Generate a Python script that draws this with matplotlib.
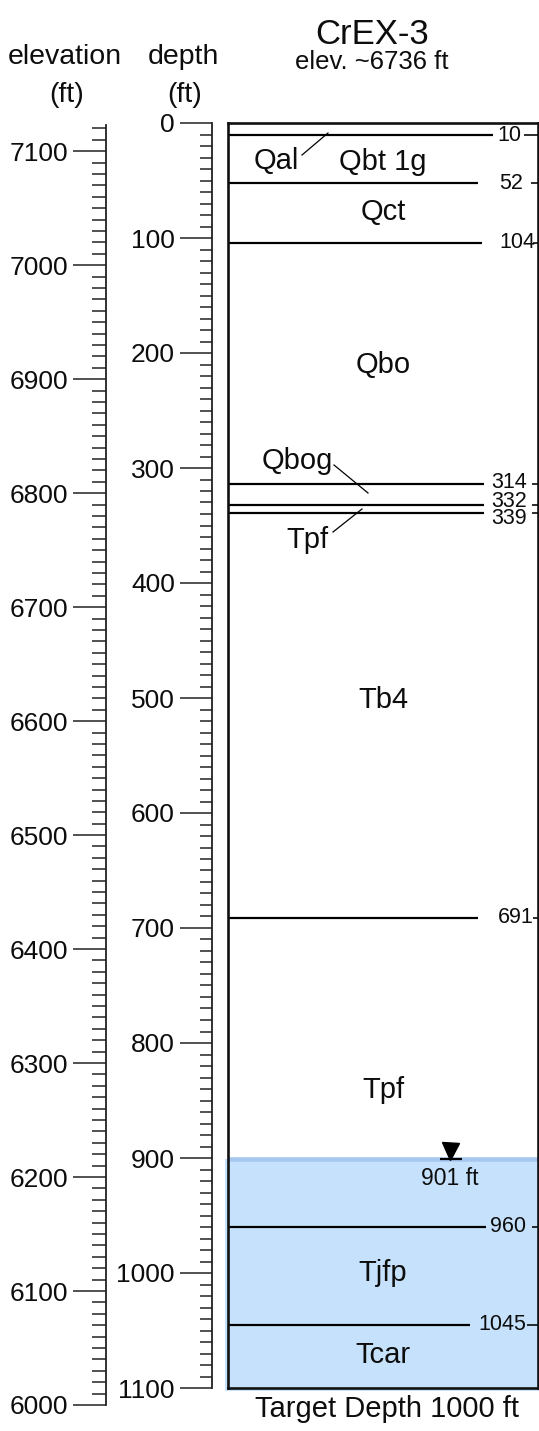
import matplotlib
matplotlib.use('Agg')
import matplotlib.pyplot as plt
from matplotlib.patches import Rectangle
from matplotlib.ticker import MultipleLocator, FixedLocator

plt.rcParams['font.family'] = ['Liberation Sans', 'DejaVu Sans']

# ---------------- data ----------------
well_name = 'CrEX-3'
well_elev_text = 'elev. ~6736 ft'
target_text = 'Target Depth 1000 ft'
total_depth = 1100
water_depth = 901
water_text = '901 ft'

contact_depths = [10, 52, 104, 314, 332, 339, 691, 960, 1045]
contact_labels = ['10', '52', '104', '314', '332', '339', '691', '960', '1045']

unit_names = ['Qbt 1g', 'Qct', 'Qbo', 'Tb4', 'Tpf', 'Tjfp', 'Tcar']
unit_label_depths = [34, 77, 210, 502, 841, 1000, 1071]

thin_units = ['Qal', 'Qbog', 'Tpf']          # labelled with leader lines

depth_ticks = list(range(0, 1101, 100))
depth_tick_labels = [str(v) for v in depth_ticks]
elev_ticks = list(range(6000, 7101, 100))
elev_tick_labels = [str(v) for v in elev_ticks]
elev_range = (6000, 7123)

# ---------------- layout helpers ----------------
W, H = 539, 1431
fig = plt.figure(figsize=(W / 100, H / 100), dpi=100)


def frect(x0, y0, x1, y1):
    return [x0 / W, 1 - y1 / H, (x1 - x0) / W, (y1 - y0) / H]


BOX_L, BOX_R, BOX_T, BOX_B = 228, 538, 123, 1388
PX_PER_FT = (BOX_B - BOX_T) / total_depth


def bx(px):
    return (px - BOX_L) / (BOX_R - BOX_L)


def bd(py):
    return (py - BOX_T) / PX_PER_FT


def pt(px):
    return px * 0.72

BLACK = '#000000'
TXT = '#0d0d0d'
TICKC = '#222222'
BLUE_FILL = '#C6E1FB'
BLUE_EDGE = '#A7C7F1'
UNIT_FS = 21

# ---------------- main column ----------------
ax = fig.add_axes(frect(BOX_L, BOX_T, BOX_R, BOX_B))
ax.set_xlim(0, 1)
ax.set_ylim(total_depth, 0)
ax.set_xticks([])
ax.set_yticks([])
for s in ax.spines.values():
    s.set_linewidth(1.9)
    s.set_color('#111111')
    s.set_zorder(6)
ax.patch.set_alpha(0)

# saturated zone
ax.add_patch(Rectangle((bx(225), water_depth), bx(539) - bx(225),
                       total_depth + 3 / PX_PER_FT - water_depth,
                       facecolor=BLUE_FILL, edgecolor='none', clip_on=False, zorder=0))
ax.plot([0, 1], [water_depth, water_depth], color=BLUE_EDGE, lw=pt(4.5),
        solid_capstyle='butt', zorder=1)

# contacts
label_x_px = [509, 511, 517, 509, 509, 509, 516, 508, 502]
line_end_px = [493, 478, 482, 484, 484, 484, 478, 486, 470]
dash_start_px = [524, 531, 533, 532, 532, 532, 533, 532, 527]
label_dy_px = [1, 1, 0, -2, -3, 6, 0, 0, 0]
for d, lab, lx, le, ds, dy in zip(contact_depths, contact_labels, label_x_px,
                                   line_end_px, dash_start_px, label_dy_px):
    ax.plot([0, bx(le)], [d, d], color=BLACK, lw=pt(2.2), solid_capstyle='butt', zorder=3)
    ax.plot([bx(ds), 1], [d, d], color=BLACK, lw=pt(1.6), solid_capstyle='butt', zorder=3)
    ax.text(bx(lx), d + dy / PX_PER_FT, lab, ha='center', va='center',
            fontsize=15.5, color=TXT, zorder=4)

# unit labels
for name, d in zip(unit_names, unit_label_depths):
    ax.text(0.5, d, name, ha='center', va='center', fontsize=UNIT_FS, color=TXT, zorder=4)

# thin units with leader lines
ax.text(bx(276), bd(161), thin_units[0], ha='center', va='center', fontsize=UNIT_FS,
        color=TXT, zorder=4)
ax.plot([bx(302), bx(328)], [bd(155), bd(133)], color=BLACK, lw=0.9, zorder=4)

ax.text(bx(297), bd(461), thin_units[1], ha='center', va='center', fontsize=UNIT_FS,
        color=TXT, zorder=4)
ax.plot([bx(334), bx(368)], [bd(465), bd(493)], color=BLACK, lw=0.9, zorder=4)

ax.text(bx(307), bd(540), thin_units[2], ha='center', va='center', fontsize=UNIT_FS,
        color=TXT, zorder=4)
ax.plot([bx(333), bx(362)], [bd(532), bd(509)], color=BLACK, lw=0.9, zorder=4)

# water level symbol
ax.plot([bx(450)], [water_depth - 8 / PX_PER_FT], marker='v', markersize=pt(17),
        color=BLACK, zorder=5, clip_on=False)
ax.plot([bx(440), bx(462)], [water_depth, water_depth], color=BLACK, lw=pt(2.2),
        solid_capstyle='butt', zorder=5)
ax.text(bx(450), water_depth + 19 / PX_PER_FT, water_text, ha='center', va='center',
        fontsize=16.5, color=TXT, zorder=5)


# ---------------- depth / elevation scales ----------------
def scale_axis(rect_px, ylim, ticks, labels, major_len, minor_len):
    a = fig.add_axes(frect(*rect_px))
    a.set_ylim(*ylim)
    a.set_xticks([])
    for k in ['top', 'right', 'bottom']:
        a.spines[k].set_visible(False)
    a.spines['left'].set_linewidth(1.3)
    a.spines['left'].set_color(TICKC)
    a.patch.set_alpha(0)
    a.yaxis.set_major_locator(FixedLocator(ticks))
    a.set_yticklabels(labels)
    a.yaxis.set_minor_locator(MultipleLocator(10))
    a.tick_params(axis='y', which='major', length=pt(major_len), width=1.1,
                  color=TICKC, pad=pt(5), labelsize=19, labelcolor=TXT, direction='out')
    a.tick_params(axis='y', which='minor', length=pt(minor_len), width=1.1,
                  color=TICKC, direction='out')
    return a


ax_d = scale_axis((212, BOX_T, 212.5, BOX_B), (total_depth, 0), depth_ticks,
                  depth_tick_labels, 32, 12)
ax_e = scale_axis((106, 125, 106.5, 1405), elev_range, elev_ticks,
                  elev_tick_labels, 33, 14)


# ---------------- header / footer texts ----------------
def ftext(xp, yp, s, **kw):
    fig.text(xp / W, 1 - yp / H, s, color=TXT, **kw)

ftext(372, 35, well_name, fontsize=25, ha='center', va='center')
ftext(372, 62, well_elev_text, fontsize=18.5, ha='center', va='center')
ftext(65, 57, 'elevation', fontsize=20.5, ha='center', va='center')
ftext(67, 95, '(ft)', fontsize=20.5, ha='center', va='center')
ftext(183, 57, 'depth', fontsize=20.5, ha='center', va='center')
ftext(185, 95, '(ft)', fontsize=20.5, ha='center', va='center')
ftext(387, 1409, target_text, fontsize=21, ha='center', va='center')

fig.savefig('out.png', dpi=100, facecolor='white')
